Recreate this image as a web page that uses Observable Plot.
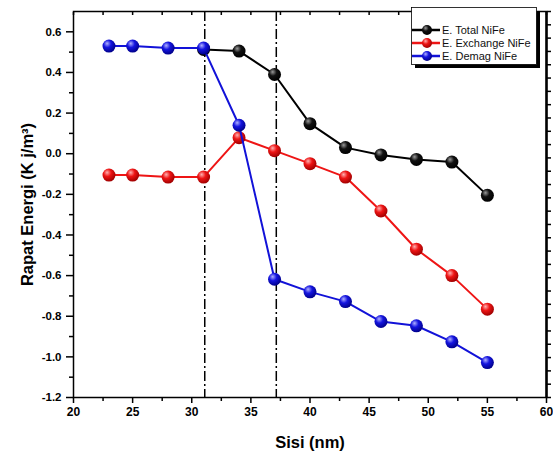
<!DOCTYPE html>
<html><head><meta charset="utf-8">
<script src="https://cdn.jsdelivr.net/npm/d3@7"></script>
<script src="https://cdn.jsdelivr.net/npm/@observablehq/plot@0.6"></script>
<style>body{margin:0;background:#fff}</style>
</head><body><div id="chart"></div>
<script>
const sisi = [23,25,28,31,34,37,40,43,46,49,52,55];
const totalSisi = [31,34,37,40,43,46,49,52,55];
const totalY = [0.513,0.505,0.39,0.148,0.03,-0.006,-0.028,-0.041,-0.205];
const exchangeY = [-0.105,-0.105,-0.115,-0.115,0.079,0.015,-0.049,-0.115,-0.282,-0.47,-0.60,-0.765];
const demagY = [0.53,0.53,0.52,0.52,0.14,-0.618,-0.68,-0.728,-0.826,-0.847,-0.926,-1.028];
const seriesNames = ["E. Total NiFe","E. Exchange NiFe","E. Demag NiFe"];
const seriesColors = ["#000000","#ee1515","#1212d8"];
const markerLines = [31.1, 37.15];
const xTicks = [20,25,30,35,40,45,50,55,60];
const xMinor = [22.5,27.5,32.5,37.5,42.5,47.5,52.5,57.5];
const yTicks = [-1.2,-1.0,-0.8,-0.6,-0.4,-0.2,0.0,0.2,0.4,0.6];
const yMinor = [-1.1,-0.9,-0.7,-0.5,-0.3,-0.1,0.1,0.3,0.5];
const xTitle = "Sisi (nm)";
const yTitle = "Rapat Energi (K j/m³)";

const rows = [
  ...totalSisi.map((x,i)=>({x, y: totalY[i], s: seriesNames[0]})),
  ...sisi.map((x,i)=>({x, y: exchangeY[i], s: seriesNames[1]})),
  ...sisi.map((x,i)=>({x, y: demagY[i], s: seriesNames[2]}))
];
const rightTicks = d3.range(30).map(i => -1.2 + i*1.9/29);
const topTicks = d3.range(17).map(i => 20 + i*2.5);

const seriesMarks = seriesNames.flatMap(name => {
  const d = rows.filter(r => r.s === name);
  return [
    Plot.line(d, {x:"x", y:"y", stroke:"s", strokeWidth:2}),
    Plot.dot(d, {x:"x", y:"y", fill:"s", r:6.5, stroke:null})
  ];
});

const chart = Plot.plot({
  width: 553, height: 457,
  marginLeft: 73, marginRight: 7, marginTop: 11, marginBottom: 60,
  style: {fontFamily: "'Liberation Sans', Arial, sans-serif", background: "#fff", overflow: "visible"},
  x: {domain: [20,60], label: null},
  y: {domain: [-1.2,0.7], label: null},
  color: {domain: seriesNames, range: seriesColors},
  marks: [
    Plot.ruleX(markerLines, {stroke:"#000", strokeWidth:1.5, strokeDasharray:"10,3,2,3"}),
    ...seriesMarks,
    Plot.frame({stroke:"#000", strokeWidth:1.5}),
    Plot.ruleX([60], {stroke:"#000", strokeWidth:2.5}),
    Plot.axisX(xTicks, {tickSize:6, tickPadding:4, tickFormat: d=>String(d), fontSize:12, fontWeight:"bold", strokeWidth:1.5}),
    Plot.axisX(xMinor, {tickSize:4, tickFormat: ()=>"", strokeWidth:1.5}),
    Plot.axisX(topTicks, {anchor:"top", tickSize:-3, tickFormat: ()=>"", strokeWidth:1.5}),
    Plot.axisY(yTicks, {tickSize:7, tickPadding:5, tickFormat: d=>d.toFixed(1), fontSize:11.5, fontWeight:"bold", strokeWidth:1.5}),
    Plot.axisY(yMinor, {tickSize:4, tickFormat: ()=>"", strokeWidth:1.5}),
    Plot.axisY(rightTicks, {anchor:"right", tickSize:4, tickFormat: ()=>"", strokeWidth:1.5}),
    Plot.text([xTitle], {frameAnchor:"bottom", dy:50, text:d=>d, fontSize:16.5, fontWeight:"bold", textAnchor:"middle"}),
    Plot.text([yTitle], {frameAnchor:"left", dx:-46, rotate:-90, text:d=>d, fontSize:16.5, fontWeight:"bold", textAnchor:"middle"})
  ]
});

// sphere gradients
const svg = d3.select(chart);
const defs = svg.insert("defs", ":first-child");
const grads = [["#9a9a9a","#111111","#000000"],["#ffb0b0","#ee1515","#a00000"],["#b0b0ff","#1515e0","#00008a"]];
grads.forEach((g,i)=>{
  const rg = defs.append("radialGradient").attr("id","sph"+i).attr("cx","40%").attr("cy","35%").attr("r","65%").attr("fx","35%").attr("fy","30%");
  rg.append("stop").attr("offset","0%").attr("stop-color",g[0]);
  rg.append("stop").attr("offset","45%").attr("stop-color",g[1]);
  rg.append("stop").attr("offset","100%").attr("stop-color",g[2]);
});
const colorToIdx = {};
seriesColors.forEach((c,i)=>colorToIdx[d3.color(c).formatHex()] = i);
svg.selectAll("circle").each(function(){
  const f = this.getAttribute("fill");
  if (!f) return;
  const k = d3.color(f) ? d3.color(f).formatHex() : null;
  if (k in colorToIdx) this.setAttribute("fill", "url(#sph"+colorToIdx[k]+")");
});

// legend
const lg = svg.append("g").attr("font-family","'Liberation Sans', Arial, sans-serif").attr("font-size","11").attr("text-anchor","start");
lg.append("rect").attr("x",415).attr("y",11).attr("width",125).attr("height",57).attr("fill","#000");
lg.append("rect").attr("x",411.5).attr("y",7.5).attr("width",125).attr("height",57).attr("fill","#fff").attr("stroke","#000").attr("stroke-width",0.8);
seriesNames.forEach((name,i)=>{
  const yy = 30 + i*13;
  lg.append("line").attr("x1",412).attr("x2",440).attr("y1",yy).attr("y2",yy).attr("stroke",seriesColors[i]).attr("stroke-width",2.5);
  lg.append("circle").attr("cx",427).attr("cy",yy).attr("r",5).attr("fill","url(#sph"+i+")");
  lg.append("text").attr("x",442).attr("y",yy).attr("dy","0.35em").attr("fill","#111").text(name);
});

document.getElementById("chart").appendChild(chart);
</script>
</body></html>
